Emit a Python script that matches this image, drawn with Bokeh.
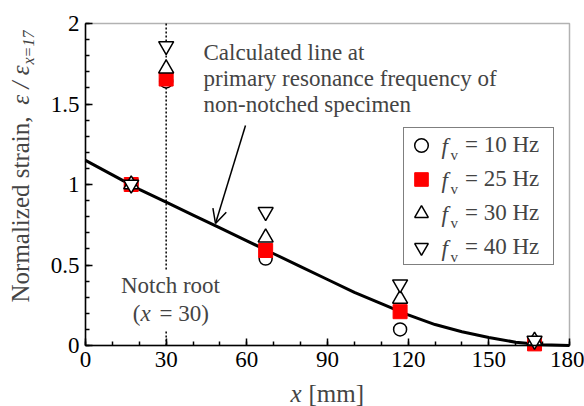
import math
from bokeh.plotting import figure
from bokeh.models import (Range1d, FixedTicker, NumeralTickFormatter, Label, BoxAnnotation,
                          Arrow, OpenHead, Legend, LegendItem, ColumnDataSource, LinearAxis)
from bokeh.embed import file_html
from bokeh.resources import INLINE

# ---------------- data ----------------
positions = [17, 30, 67, 117, 167]
strain_10hz = [1.00, 1.64, 0.54, 0.10, 0.02]
strain_25hz = [1.00, 1.655, 0.59, 0.21, 0.01]
strain_30hz = [1.00, 1.72, 0.67, 0.29, 0.03]
strain_40hz = [1.00, 1.86, 0.83, 0.38, 0.03]

calc_x = [0, 10, 20, 30, 40, 50, 60, 70, 80, 90, 100, 110, 120, 130, 140, 150, 160, 170, 180]
calc_y = [1.15, 1.06, 0.97, 0.89, 0.81, 0.73, 0.65, 0.57, 0.49, 0.41, 0.33, 0.26, 0.19,
          0.13, 0.085, 0.05, 0.02, 0.005, 0.0]

x_ticks = [0, 30, 60, 90, 120, 150, 180]
y_ticks = [0, 0.5, 1, 1.5, 2]
x_lim = (0, 180)
y_lim = (0, 2)
legend_labels = ["= 10 Hz", "= 25 Hz", "= 30 Hz", "= 40 Hz"]
notch_x = 30

FONT = "'Liberation Serif'"
TXT = "23px"

# pixel -> data helpers (axes box spans 85..569 px horizontally, 345..23 px vertically)
def dx(px):
    return (px - 85) * (x_lim[1] - x_lim[0]) / 484 + x_lim[0]

def dy(py):
    return (345 - py) * (y_lim[1] - y_lim[0]) / 322 + y_lim[0]

W, H = 584, 406
p = figure(width=W, height=H, output_backend="svg", toolbar_location=None,
           x_range=Range1d(dx(0), dx(W)), y_range=Range1d(dy(H), dy(0)),
           min_border=0, x_axis_location=None, y_axis_location=None)
p.background_fill_color = "white"
p.border_fill_color = "white"
p.grid.visible = False
p.outline_line_color = None

xaxis = LinearAxis(fixed_location=y_lim[0], bounds=x_lim,
                   ticker=FixedTicker(ticks=x_ticks, minor_ticks=list(range(0, 181, 10))))
yaxis = LinearAxis(fixed_location=x_lim[0], bounds=y_lim,
                   ticker=FixedTicker(ticks=y_ticks, minor_ticks=[i / 10 for i in range(0, 21)]),
                   formatter=NumeralTickFormatter(format="0.[0]"))
for ax in (xaxis, yaxis):
    ax.axis_line_color = "black"
    ax.axis_line_width = 1.5
    ax.major_tick_in = 7
    ax.major_tick_out = 0
    ax.minor_tick_in = 4
    ax.minor_tick_out = 0
    ax.major_tick_line_width = 1.5
    ax.minor_tick_line_width = 1.5
    ax.major_label_text_font = FONT
    ax.major_label_text_font_size = "23px"
    ax.major_label_text_color = "black"
    ax.major_label_standoff = 6
p.add_layout(xaxis, "below")
p.add_layout(yaxis, "left")

# axes box
p.add_layout(BoxAnnotation(left=x_lim[0], right=x_lim[1], bottom=y_lim[0], top=y_lim[1],
                           fill_alpha=0, line_color="black", line_width=1.5, level="overlay"))

# notch root dotted line
p.segment(x0=[notch_x], y0=[y_lim[0]], x1=[notch_x], y1=[y_lim[1]], line_color="black",
          line_width=1.5, line_dash="2 2")

# calculated line
p.line(calc_x, calc_y, line_color="black", line_width=3)

src = ColumnDataSource(dict(x=positions, y10=strain_10hz, y25=strain_25hz,
                            y30=strain_30hz, y40=strain_40hz))
r10 = p.scatter("x", "y10", source=src, marker="circle", size=13, fill_color="white",
                line_color="black", line_width=1.5)
r25 = p.scatter("x", "y25", source=src, marker="square", size=14, fill_color="red",
                line_color="red", line_width=1)
r30 = p.scatter("x", "y30", source=src, marker="triangle", size=15, fill_color="white",
                line_color="black", line_width=1.5)
r40 = p.scatter("x", "y40", source=src, marker="inverted_triangle", size=15,
                fill_color="white", line_color="black", line_width=1.5)

# legend
legend = Legend(items=[LegendItem(label=lab, renderers=[r]) for lab, r in
                       zip(legend_labels, [r10, r25, r30, r40])],
                location=(403, H - 265), orientation="vertical",
                padding=0, spacing=0, margin=0,
                glyph_width=34, glyph_height=34, label_height=34, label_width=88,
                label_standoff=27,
                label_text_font=FONT, label_text_font_size=TXT,
                border_line_color="black", border_line_width=1.5,
                background_fill_color="white", background_fill_alpha=0.0)
p.add_layout(legend, "center")

for i in range(4):
    yc = 146 + 34 * i
    p.add_layout(Label(x=dx(441), y=dy(yc), text="f",
                       text_font=FONT, text_font_style="italic", text_font_size=TXT,
                       text_baseline="middle", text_align="left", level="overlay"))
    p.add_layout(Label(x=dx(450), y=dy(yc + 8), text="v",
                       text_font=FONT, text_font_size="15px",
                       text_baseline="middle", text_align="left", level="overlay"))

# annotation: calculated line
for txt, py in zip(["Calculated line at", "primary resonance frequency of",
                    "non-notched specimen"], [52, 78, 104]):
    p.add_layout(Label(x=dx(203), y=dy(py), text=txt, text_font=FONT, text_font_size=TXT,
                       text_align="left", text_baseline="middle"))
p.add_layout(Arrow(end=OpenHead(size=14, line_width=1.5, line_color="black"),
                   x_start=dx(245), y_start=dy(125), x_end=dx(215), y_end=dy(223),
                   line_width=1.5, line_color="black"))

# notch root labels
p.add_layout(Label(x=dx(170), y=dy(285), text="Notch root", text_font=FONT,
                   text_font_size=TXT, text_align="center", text_baseline="middle",
                   background_fill_color="white", padding=3))
p.add_layout(Label(x=dx(155), y=dy(313), text="= 30)", text_font=FONT, text_font_size=TXT,
                   text_align="left", text_baseline="middle",
                   background_fill_color="white", padding=4))
p.add_layout(Label(x=dx(140), y=dy(313), text="x", text_font=FONT, text_font_size=TXT,
                   text_font_style="italic", text_align="left", text_baseline="middle"))
p.add_layout(Label(x=dx(140), y=dy(313), text="(", text_font=FONT, text_font_size=TXT,
                   text_align="right", text_baseline="middle"))

# axis titles
XT = "25px"
p.add_layout(Label(x=dx(301), y=dy(393), text="x",
                   text_font=FONT, text_font_style="italic", text_font_size=XT,
                   text_align="right", text_baseline="middle"))
p.add_layout(Label(x=dx(308), y=dy(393), text="[mm]",
                   text_font=FONT, text_font_size=XT,
                   text_align="left", text_baseline="middle"))

ang = math.pi / 2
YT = "25px"
p.add_layout(Label(x=dx(20), y=dy(65), text="ε / ε",
                   text_font=FONT, text_font_style="italic", text_font_size=YT,
                   angle=ang, text_align="right", text_baseline="middle"))
p.add_layout(Label(x=dx(20), y=dy(302), text="Normalized strain,",
                   text_font=FONT, text_font_size=YT,
                   angle=ang, text_align="left", text_baseline="middle"))
p.add_layout(Label(x=dx(28), y=dy(64), text="x=17",
                   text_font=FONT, text_font_style="italic", text_font_size="16px",
                   angle=ang, text_align="left", text_baseline="middle"))

open("out.html", "w").write(file_html(p, INLINE))
